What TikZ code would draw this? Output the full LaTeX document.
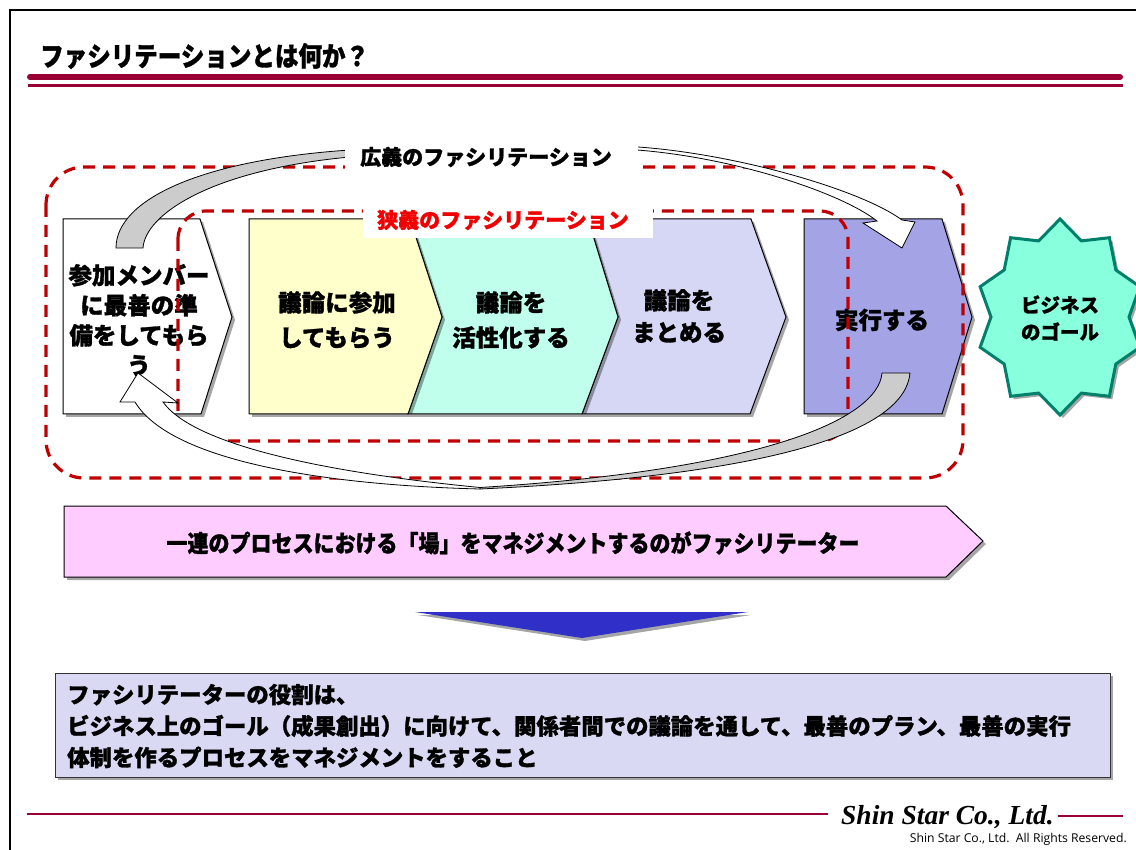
\documentclass[tikz,border=0pt]{standalone}
\usepackage{fontspec}
\setmainfont{Noto Sans CJK JP}
\newfontfamily\jp{Noto Sans CJK JP}[BoldFeatures={FakeBold=1.3}]
\newfontfamily\tms{Liberation Serif}
\newfontfamily\osans{Open Sans}
\usetikzlibrary{shadows}
\definecolor{hdrred}{HTML}{990033}
\definecolor{dashred}{HTML}{C00000}
\definecolor{labred}{HTML}{F00000}
\definecolor{cyel}{HTML}{FFFFCC}
\definecolor{ccyan}{HTML}{C0FFEC}
\definecolor{clav}{HTML}{D6D6F5}
\definecolor{cpur}{HTML}{A3A3E6}
\definecolor{cstar}{HTML}{88FFDD}
\definecolor{cstarb}{HTML}{00806A}
\definecolor{cpink}{HTML}{FFCCFF}
\definecolor{cbox}{HTML}{D9D9F3}
\definecolor{cblue}{HTML}{3030C8}
\definecolor{cgray}{HTML}{CCCCCC}
\tikzset{
  dshadow/.style={drop shadow={shadow xshift=3pt,shadow yshift=-3pt,opacity=.35,fill=black}},
  chev/.style={draw=black, line width=1pt, dshadow},
  reddash/.style={draw=dashred, line width=3.2pt, dash pattern=on 12pt off 8pt},
  arr/.style={draw=black, line width=0.8pt},
  jtxt/.style={font=\jp\bfseries\fontsize{23.5}{30}\selectfont, align=center, inner sep=0pt},
}
\begin{document}
\begin{tikzpicture}[x=1pt,y=-1pt]
\useasboundingbox (0,0) rectangle (1136,850);
\fill[white] (0,0) rectangle (1136,850);
% frame
\draw[line width=2.5pt] (10,850) -- (10,10) -- (1136,10);
% title
\node[anchor=west, font=\jp\bfseries\fontsize{24}{28}\selectfont, inner sep=0pt] (title) at (40,56) {\scalebox{0.98}[1.12]{ファシリテーションとは何か？}};
\draw[hdrred, line width=6pt, line cap=round] (30,77) -- (1120,77);
\draw[hdrred, line width=2.5pt] (28,85.5) -- (1123,85.5);

% chevrons
\filldraw[chev, fill=white] (63,219) -- (200,219) -- (232,317) -- (201,414) -- (63,414) -- cycle;
\filldraw[chev, fill=clav] (588,219) -- (751,219) -- (786,317) -- (750,414) -- (582,414) -- (618,317) -- cycle;
\filldraw[chev, fill=ccyan] (410,219) -- (588,219) -- (618,317) -- (582,414) -- (408,414) -- (442,317) -- cycle;
\filldraw[chev, fill=cyel] (249,219) -- (410,219) -- (442,317) -- (408,414) -- (249,414) -- cycle;
\filldraw[chev, fill=cpur] (804,219) -- (942,219) -- (972,317) -- (942,414) -- (804,414) -- cycle;

% star
\filldraw[draw=cstarb, line width=3pt, fill=cstar, dshadow]
  plot[samples at={0,1,...,19}, variable=\k]
  ({1060+(84-15*mod(\k,2))*cos(90+18*\k)}, {317-(98-18*mod(\k,2))*sin(90+18*\k)}) -- cycle;

% texts in chevrons
\node[jtxt] (prep) at (139,320) {参加メンバー\\に最善の準\\備をしてもら\\う};
\node[jtxt, font=\jp\bfseries\fontsize{23.5}{35}\selectfont] (join) at (337,320) {議論に参加\\してもらう};
\node[jtxt, font=\jp\bfseries\fontsize{23.5}{35}\selectfont] (act) at (511,320) {議論を\\活性化する};
\node[jtxt, font=\jp\bfseries\fontsize{23.5}{32}\selectfont] (sum) at (679,316) {議論を\\まとめる};
\node[jtxt] (exec) at (882,320) {実行する};
\node[jtxt, font=\jp\bfseries\fontsize{19.5}{27}\selectfont] (goal) at (1060,318) {ビジネス\\のゴール};

% dashed regions
\draw[reddash, rounded corners=38pt] (46,167) rectangle (963,478);
\draw[reddash, rounded corners=28pt] (178,211) rectangle (848,441);

% top curved arrow
\coordinate (topTail) at (129,248);
\coordinate (topHead) at (902,248);
\filldraw[arr, fill=cgray] (116,248) .. controls (116,200) and (200,160) .. (350,150)
  -- (350,157) .. controls (210,170) and (145,215) .. (143,248) -- cycle;
\filldraw[arr, fill=white] (630,146.5) .. controls (730,152) and (860,189) .. (902,220)
  -- (915,222) -- (topHead) -- (863,223) -- (877,221)
  .. controls (840,192) and (730,156) .. (630,149.5) -- cycle;

% bottom curved arrow
\coordinate (botTail) at (896,373);
\coordinate (botHead) at (138,373);
\filldraw[arr, fill=cgray] (882,373) -- (910,373) .. controls (905,430) and (780,475) .. (480,489)
  -- (480,487.5) .. controls (760,470) and (878,420) .. (882,373) -- cycle;
\filldraw[arr, fill=white] (480,489) .. controls (320,485) and (170,460) .. (135,402)
  -- (120,402) -- (botHead) -- (178,403) -- (163,402)
  .. controls (190,440) and (300,470) .. (480,487.5) -- cycle;

% labels
\fill[white] (345,138) rectangle (638,178);
\node[font=\jp\bfseries\fontsize{21}{25}\selectfont, inner sep=0pt] (wide) at (486,157) {広義のファシリテーション};
\fill[white] (363,201) rectangle (653,238);
\node[font=\jp\bfseries\fontsize{21}{25}\selectfont, text=labred, inner sep=0pt] (narrow) at (503,220) {狭義のファシリテーション};

% pink bar
\filldraw[chev, fill=cpink] (64,506) -- (946,506) -- (983,541) -- (946,577) -- (64,577) -- cycle;
\node[font=\jp\bfseries\fontsize{21}{25}\selectfont, inner sep=0pt] (bar) at (513,543) {\scalebox{1}[1.12]{一連のプロセスにおける「場」をマネジメントするのがファシリテーター}};

% blue triangle
\fill[cblue, dshadow] (415,612) -- (748,612) -- (582,638) -- cycle;

% bottom box
\filldraw[draw=black!80, line width=1pt, fill=cbox, dshadow] (55,673) rectangle (1110,777);
\node[anchor=west, font=\jp\bfseries\fontsize{22.4}{31.5}\selectfont, align=left, inner sep=0pt] (role) at (67,726)
  {ファシリテーターの役割は、\\ビジネス上のゴール（成果創出）に向けて、関係者間での議論を通して、最善のプラン、最善の実行\\体制を作るプロセスをマネジメントをすること};

% footer
\node[anchor=base west, font=\tms\bfseries\itshape\fontsize{27.5}{30}\selectfont, inner sep=0pt] (co) at (841,824) {Shin Star Co., Ltd.};
\draw[hdrred, line width=2.5pt] (27,814) -- (828,814);
\draw[hdrred, line width=2.5pt] (1058,816) -- (1123,816);
\node[anchor=east, font=\osans\fontsize{12.2}{14}\selectfont, inner sep=0pt] (rights) at (1127,839) {Shin Star Co., Ltd.\ \ All Rights Reserved.};
\end{tikzpicture}
\end{document}
